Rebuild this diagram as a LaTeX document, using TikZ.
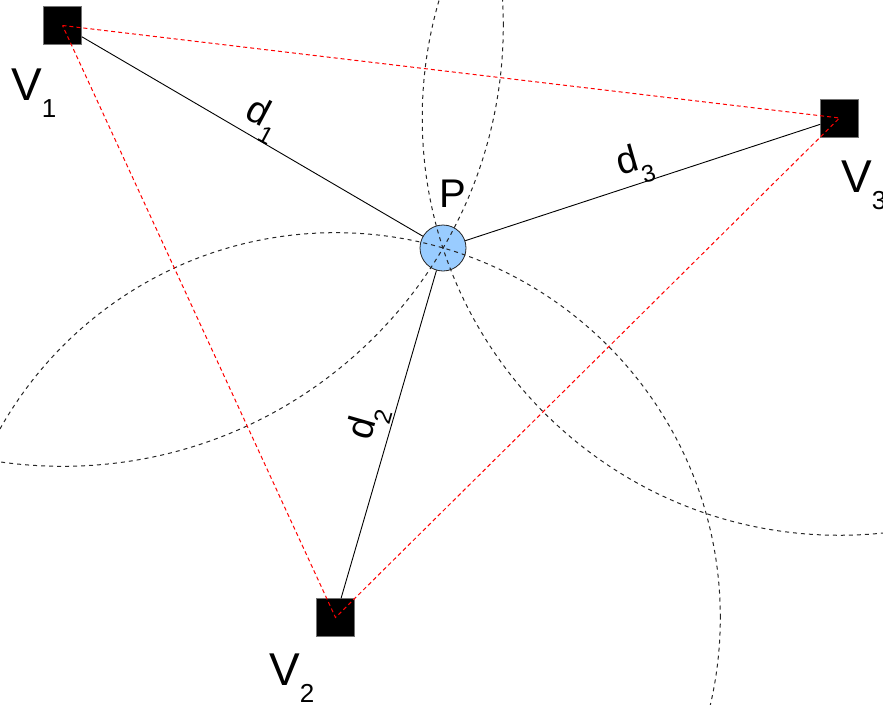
\documentclass[tikz,border=0pt]{standalone}
\usepackage{fontspec}
\setmainfont{Liberation Sans}
\usetikzlibrary{calc}
\definecolor{pblue}{RGB}{153,204,255}
\begin{document}
\begin{tikzpicture}[x=1pt,y=-1pt,
  vsq/.style={draw=black!55, fill=black, minimum size=38pt, inner sep=0pt, line width=0.6pt},
  ppt/.style={circle, draw=black!85, fill=pblue, minimum size=46pt, inner sep=0pt, line width=0.8pt},
  link/.style={draw=black, line width=0.9pt},
  ring/.style={draw=black!85, dash pattern=on 4pt off 4pt, line width=1pt},
  tri/.style={draw=red, dash pattern=on 4pt off 3pt, line width=1pt},
  lbl/.style={inner sep=0pt, anchor=base west},
  dl/.style={inner sep=0pt, anchor=center}
]
\useasboundingbox (0,0) rectangle (883,704);
% nodes
\node[ppt] (P) at (443,248) {};
\node[vsq] (V1) at (62.5,25.5) {};
\node[vsq] (V2) at (335.5,617.5) {};
\node[vsq] (V3) at (839.5,118) {};
% distance links
\draw[link] (V1) -- (P);
\draw[link] (V2) -- (P);
\draw[link] (V3) -- (P);
% circles through P, clipped to the picture
\begin{scope}
\clip (0,0) rectangle (883,704);
\draw[ring] let \p1=($(P.center)-(V1.center)$), \n1={veclen(\x1,\y1)} in (V1.center) circle [radius=\n1];
\draw[ring] let \p1=($(P.center)-(V2.center)$), \n1={veclen(\x1,\y1)} in (V2.center) circle [radius=\n1];
\draw[ring] let \p1=($(P.center)-(V3.center)$), \n1={veclen(\x1,\y1)} in (V3.center) circle [radius=\n1];
\end{scope}
% triangle
\draw[tri] (V1.center) -- (V3.center) -- (V2.center) -- cycle;
% labels
\node[lbl] (L1) at (11,100) {\fontsize{46}{46}\selectfont V\raisebox{-17pt}{\fontsize{26}{26}\selectfont 1}};
\node[lbl] (L2) at (269,685) {\fontsize{46}{46}\selectfont V\raisebox{-17pt}{\fontsize{26}{26}\selectfont 2}};
\node[lbl] (L3) at (841,192) {\fontsize{46}{46}\selectfont V\raisebox{-17pt}{\fontsize{26}{26}\selectfont 3}};
\node[lbl] (LP) at (439,207) {\fontsize{40}{40}\selectfont P};
\node[dl, rotate=-28] (D1) at (262.3,119.4) {\fontsize{38}{38}\selectfont d\raisebox{-14pt}{\fontsize{24}{24}\selectfont 1}};
\node[dl, rotate=74] (D2) at (368.6,423.5) {\fontsize{38}{38}\selectfont d\raisebox{-14pt}{\fontsize{24}{24}\selectfont 2}};
\node[dl, rotate=16] (D3) at (635,164.6) {\fontsize{38}{38}\selectfont d\raisebox{-14pt}{\fontsize{24}{24}\selectfont 3}};
\end{tikzpicture}
\end{document}
